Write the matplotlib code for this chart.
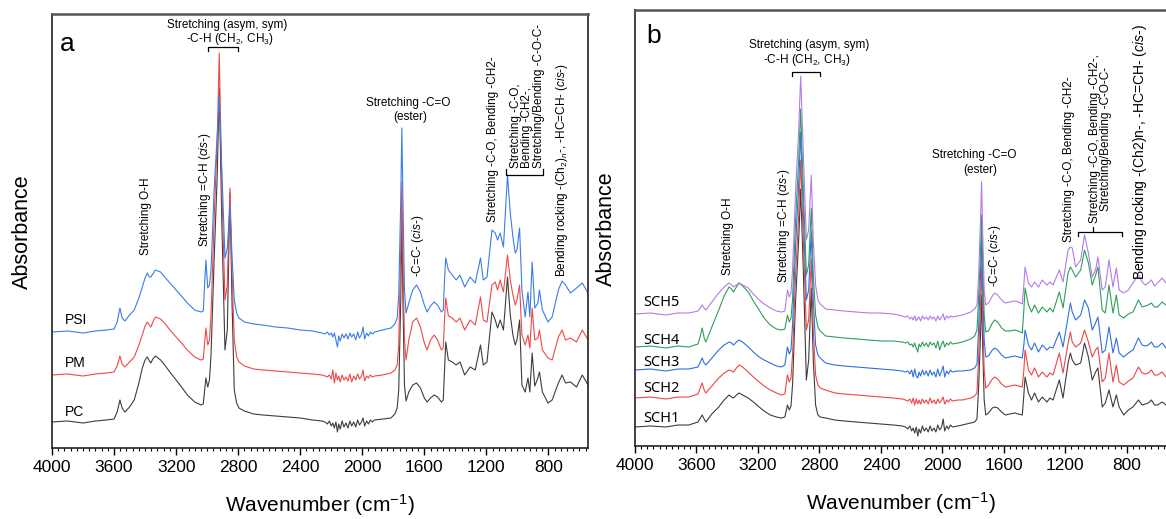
import matplotlib
matplotlib.use('Agg')
import matplotlib.pyplot as plt
from matplotlib.ticker import MultipleLocator

plt.rcParams['font.family'] = ['Liberation Sans', 'DejaVu Sans']
plt.rcParams['mathtext.fontset'] = 'custom'
plt.rcParams['mathtext.rm'] = 'Liberation Sans'
plt.rcParams['mathtext.it'] = 'Liberation Sans:italic'
plt.rcParams['mathtext.bf'] = 'Liberation Sans:bold'

# ---- panel a: wavenumbers (cm-1) and stacked traces
# (trace values are read as depth from the top of the frame, so the y axis is inverted)
wn_a = [4000, 3900, 3800, 3720, 3650, 3600, 3580, 3562, 3548, 3530, 3500, 3470, 3440, 3418, 3400,
        3386, 3372, 3363, 3350, 3334, 3300, 3274, 3240, 3200, 3160, 3128, 3080, 3040, 3025,
        3008, 2996, 2985, 2975, 2955, 2935, 2922, 2905, 2885, 2870, 2853, 2840, 2825, 2810, 2795,
        2760, 2700, 2640, 2560, 2480, 2400, 2320, 2260,
        2240, 2225, 2212, 2200, 2190, 2180, 2170, 2160, 2152, 2142, 2130, 2118, 2105, 2092, 2080,
        2068, 2055, 2042, 2030, 2018, 2005, 1995, 1985, 1972, 1960, 1948, 1935, 1920,
        1870, 1815, 1790, 1775, 1765, 1752, 1745, 1738, 1728, 1718, 1700, 1675, 1650, 1625, 1600,
        1582, 1560, 1537, 1515, 1490, 1478,
        1470, 1462, 1445, 1420, 1395, 1370, 1340, 1305, 1272, 1238, 1220, 1196, 1164, 1143, 1128,
        1111, 1090, 1064, 1046, 1029, 1014, 1003, 986, 971, 950, 932, 920, 905, 888, 868, 858, 839, 803,
        776, 736, 712, 690, 658, 619, 582, 545]
psi = [332, 331, 333, 331, 330, 329, 322, 308, 318, 321, 315, 310, 298, 287, 278,
       273, 277, 277, 274, 270, 272, 277, 283, 290, 297, 303, 310, 312, 311,
       260, 288, 285, 270, 190, 135, 97, 170, 258, 248, 205, 255, 300, 313, 318,
       322, 324, 325, 327, 328, 330, 331, 333,
       334, 332, 335, 333, 337, 333, 340, 347, 336, 341, 334, 338, 334, 339, 333,
       337, 334, 340, 332, 338, 334, 327, 339, 333, 336, 332, 334, 332,
       330, 328, 324, 318, 295, 200, 128, 200, 290, 313, 303, 290, 285, 292, 305,
       312, 306, 302, 305, 312, 310,
       280, 258, 270, 275, 280, 275, 287, 277, 283, 258, 280, 277, 230, 233, 240,
       233, 247, 175, 213, 237, 253, 250, 228, 290, 317, 292, 317, 262, 308, 303, 290, 310, 322,
       317, 290, 281, 285, 293, 288, 283, 293]
pm = [375, 374, 376, 374, 373, 372, 366, 356, 364, 367, 362, 357, 345, 335, 326,
      322, 325, 327, 322, 317, 319, 323, 330, 337, 344, 350, 357, 360, 359,
      328, 345, 340, 315, 220, 140, 53, 190, 300, 285, 188, 270, 340, 357, 362,
      366, 369, 370, 371, 372, 373, 374, 375,
      376, 377, 375, 379, 370, 383, 373, 380, 376, 382, 375, 380, 377, 381, 374,
      382, 376, 380, 374, 379, 376, 370, 381, 376, 378, 375, 377, 376,
      375, 373, 370, 365, 345, 250, 182, 260, 340, 360, 340, 322, 318, 327, 343,
      350, 340, 335, 340, 350, 348,
      320, 298, 316, 318, 322, 318, 330, 320, 325, 297, 320, 322, 285, 282, 290,
      280, 292, 255, 280, 295, 305, 300, 285, 335, 345, 335, 348, 308, 340, 338, 330, 350, 358,
      360, 337, 330, 340, 338, 342, 330, 340]
pc = [422, 421, 423, 421, 420, 419, 412, 400, 408, 412, 407, 400, 383, 368, 360,
      357, 361, 363, 359, 356, 360, 365, 372, 380, 388, 395, 402, 405, 404,
      378, 387, 380, 355, 260, 175, 88, 225, 350, 330, 193, 300, 390, 403, 408,
      411, 414, 415, 416, 417, 418, 420, 421,
      422, 424, 421, 426, 423, 428, 422, 432, 424, 429, 421, 427, 423, 428, 421,
      426, 422, 427, 420, 425, 422, 418, 426, 421, 424, 420, 422, 420,
      419, 418, 414, 408, 390, 300, 213, 300, 385, 401, 392, 385, 383, 388, 398,
      402, 398, 395, 397, 402, 400,
      370, 342, 360, 362, 365, 362, 375, 367, 370, 345, 365, 362, 312, 320, 328,
      320, 330, 277, 315, 335, 345, 340, 320, 385, 392, 378, 392, 353, 386, 378, 372, 392, 403,
      400, 383, 375, 383, 382, 387, 375, 385]

# ---- panel b
wn_b = [4000, 3900, 3800, 3720, 3650, 3590, 3575, 3563, 3550, 3539, 3500, 3455, 3420, 3388, 3372,
        3359, 3340, 3323, 3300, 3263, 3230, 3192, 3160, 3120, 3080, 3048, 3025,
        3008, 2996, 2985, 2975, 2955, 2935, 2922, 2905, 2885, 2870, 2853, 2840, 2825, 2810, 2795,
        2760, 2700, 2640, 2560, 2480, 2400, 2320, 2260,
        2240, 2225, 2212, 2200, 2190, 2180, 2170, 2160, 2152, 2142, 2130, 2118, 2105, 2092, 2080,
        2068, 2055, 2042, 2030, 2018, 2005, 1995, 1985, 1972, 1960, 1948, 1935, 1900, 1870,
        1815, 1790, 1775, 1765, 1752, 1745, 1738, 1728, 1718, 1700, 1675, 1659, 1640, 1615, 1590,
        1560, 1530, 1505, 1480,
        1470, 1462, 1440, 1420, 1400, 1375, 1350, 1320, 1300, 1280, 1239, 1215, 1182, 1167, 1155,
        1133, 1100, 1075, 1050, 1025, 1003, 988, 960, 940, 916, 890, 868, 850, 820, 790,
        760, 724, 700, 680, 660, 640, 620, 600, 570, 545]
sch5 = [314, 313, 315, 313, 313, 311, 308, 305, 308, 310, 302, 293, 287, 283, 285,
        287, 285, 283, 285, 288, 294, 300, 304, 308, 311, 312, 311,
        290, 297, 293, 270, 190, 130, 76, 150, 240, 230, 175, 240, 285, 300, 304,
        309, 310, 311, 312, 313, 313, 314, 316,
        317, 316, 319, 317, 320, 316, 321, 318, 317, 321, 316, 319, 317, 320, 316,
        319, 317, 321, 316, 320, 317, 314, 320, 316, 318, 316, 317, 316, 315,
        312, 309, 305, 280, 220, 182, 230, 290, 305, 303, 296, 293, 295, 300, 303,
        302, 301, 302, 304,
        285, 267, 283, 287, 282, 287, 280, 285, 282, 285, 270, 282, 250, 247, 248,
        267, 260, 235, 253, 277, 270, 257, 290, 287, 260, 287, 268, 290, 293, 290,
        283, 275, 282, 285, 283, 280, 286, 283, 278, 283]
sch4 = [347, 346, 348, 346, 347, 344, 336, 328, 338, 342, 327, 310, 296, 287, 289,
        292, 287, 283, 286, 292, 301, 310, 318, 325, 329, 330, 329,
        315, 322, 318, 300, 220, 160, 109, 190, 275, 265, 208, 275, 315, 327, 331,
        336, 337, 338, 339, 340, 341, 341, 342,
        343, 342, 345, 344, 347, 343, 348, 352, 344, 347, 342, 346, 343, 347, 342,
        345, 343, 348, 341, 350, 344, 341, 347, 343, 345, 342, 344, 343, 342,
        339, 336, 330, 300, 250, 215, 260, 315, 332, 331, 323, 320, 322, 328, 331,
        331, 330, 331, 333,
        310, 288, 305, 312, 305, 313, 307, 312, 308, 312, 292, 308, 273, 267, 270,
        277, 270, 250, 263, 285, 275, 267, 310, 313, 285, 313, 295, 315, 318, 314,
        312, 300, 307, 306, 305, 303, 307, 307, 302, 305]
sch3 = [370, 369, 371, 369, 369, 367, 362, 358, 363, 365, 358, 350, 345, 342, 343,
        345, 342, 340, 342, 347, 352, 357, 360, 363, 366, 367, 365,
        347, 354, 350, 325, 245, 185, 132, 210, 300, 290, 231, 300, 345, 355, 358,
        363, 365, 366, 367, 368, 369, 370, 371,
        372, 371, 374, 370, 377, 369, 376, 378, 372, 376, 370, 375, 371, 376, 370,
        375, 372, 377, 369, 376, 371, 366, 377, 371, 374, 370, 372, 371, 371,
        370, 368, 364, 330, 275, 238, 285, 340, 357, 356, 350, 348, 350, 355, 358,
        357, 356, 357, 358,
        345, 330, 345, 350, 343, 352, 345, 350, 347, 348, 332, 347, 317, 303, 312,
        320, 315, 300, 308, 330, 323, 317, 353, 350, 327, 353, 338, 353, 357, 353,
        350, 338, 345, 346, 345, 342, 347, 347, 343, 348]
sch2 = [398, 397, 399, 397, 397, 394, 388, 383, 390, 393, 386, 378, 373, 370, 371,
        372, 368, 365, 367, 372, 377, 382, 386, 390, 393, 395, 394,
        375, 382, 378, 355, 275, 215, 160, 240, 330, 320, 259, 330, 375, 385, 388,
        390, 393, 394, 395, 396, 397, 398, 399,
        400, 401, 399, 403, 398, 405, 399, 404, 400, 404, 399, 403, 400, 404, 398,
        403, 400, 404, 399, 403, 400, 397, 404, 400, 402, 399, 401, 400, 400,
        398, 396, 393, 360, 305, 266, 315, 370, 388, 385, 379, 377, 379, 384, 387,
        386, 385, 386, 387,
        370, 350, 370, 375, 368, 377, 372, 377, 373, 375, 353, 373, 343, 332, 342,
        347, 343, 330, 342, 357, 350, 347, 382, 378, 353, 382, 365, 382, 385, 381,
        378, 367, 373, 374, 373, 370, 375, 375, 372, 377]
sch1 = [427, 426, 427, 425, 425, 422, 418, 415, 419, 422, 414, 407, 400, 395, 397,
        398, 395, 393, 395, 398, 402, 407, 411, 415, 417, 418, 417,
        405, 410, 406, 385, 300, 240, 189, 270, 380, 360, 288, 360, 405, 415, 417,
        418, 420, 421, 422, 423, 424, 425, 426,
        427, 429, 426, 431, 428, 433, 427, 436, 429, 433, 426, 431, 428, 432, 426,
        431, 428, 432, 425, 430, 427, 419, 431, 426, 429, 425, 427, 426, 425,
        423, 422, 419, 390, 335, 295, 345, 400, 415, 413, 408, 407, 408, 412, 415,
        414, 413, 414, 415,
        395, 377, 393, 400, 393, 402, 397, 402, 398, 400, 380, 398, 363, 353, 360,
        365, 363, 343, 357, 380, 372, 368, 407, 403, 390, 407, 395, 407, 415, 410,
        407, 400, 405, 404, 403, 400, 405, 405, 402, 405]

labels_a = ['PSI', 'PM', 'PC']
labels_b = ['SCH5', 'SCH4', 'SCH3', 'SCH2', 'SCH1']
xticks = [4000, 3600, 3200, 2800, 2400, 2000, 1600, 1200, 800]

fig = plt.figure(figsize=(11.66, 5.19), dpi=100)
ax1 = fig.add_axes([52 / 1166, 71 / 519, 536 / 1166, 434 / 519])
ax2 = fig.add_axes([635 / 1166, 73 / 519, 531 / 1166, 436 / 519])

ax1.plot(wn_a, pc, color='#3d3d3d', lw=0.8)
ax1.plot(wn_a, pm, color='#f04848', lw=0.8)
ax1.plot(wn_a, psi, color='#3a7de6', lw=0.8)
ax1.set_ylim(448, 14)

ax2.plot(wn_b, sch1, color='#3d3d3d', lw=0.8)
ax2.plot(wn_b, sch2, color='#f04545', lw=0.8)
ax2.plot(wn_b, sch3, color='#2f6fe0', lw=0.8)
ax2.plot(wn_b, sch4, color='#2e9e5b', lw=0.8)
ax2.plot(wn_b, sch5, color='#b57be6', lw=0.8)
ax2.set_ylim(446, 10)

for ax in [ax1, ax2]:
    ax.set_xlim(4000, 545)
    ax.set_xticks(xticks)
    ax.xaxis.set_minor_locator(MultipleLocator(40))
    ax.tick_params(axis='x', which='major', direction='out', length=5, width=1, labelsize=12.5, pad=4)
    ax.tick_params(axis='x', which='minor', direction='out', length=2.5, width=0.8)
    ax.set_yticks([])
    ax.set_xlabel('Wavenumber (cm$^{-1}$)', fontsize=15, labelpad=12)
    for side in ax.spines.keys():
        ax.spines[side].set_color('#222222')
        ax.spines[side].set_linewidth(1.2)
    ax.spines['top'].set_color('#555555')
    ax.spines['top'].set_linewidth(1.8)
ax2.spines['right'].set_visible(False)

fig.text(22 / 1166, 1 - 232 / 519, 'Absorbance', rotation=90, ha='center', va='center', fontsize=15.5)
fig.text(606 / 1166, 1 - 229 / 519, 'Absorbance', rotation=90, ha='center', va='center', fontsize=15.5)

# panel letters and sample names
ax1.text(3903, 44, 'a', fontsize=19, ha='center', va='center')
ax2.text(3877, 36, 'b', fontsize=19, ha='center', va='center')
for lab, y in zip(labels_a, [320, 363, 412]):
    ax1.text(3916, y, lab, fontsize=10, ha='left', va='center')
for lab, y in zip(labels_b, [303, 341, 363, 389, 418]):
    ax2.text(3948, y, lab, fontsize=10.5, ha='left', va='center', family=['Noto Sans', 'DejaVu Sans'])

cis = '($\\mathit{cis}$-)'
fs = 8.5


def vnote(ax, x, y, s, size=fs, **kw):
    ax.text(x, y, s, rotation=90, ha='center', va='bottom', fontsize=size, **kw)


def bracket(ax, x0, x1, y, tick):
    ax.plot([x0, x0, x1, x1], [y + tick, y, y, y + tick], color='k', lw=0.9, clip_on=False)


# annotations panel a
ax1.text(2869, 25, 'Stretching (asym, sym)', ha='center', va='center', fontsize=fs)
ax1.text(2856, 39, '-C-H (CH$_2$, CH$_3$)', ha='center', va='center', fontsize=fs)
bracket(ax1, 2992, 2798, 47, 4)
vnote(ax1, 3392, 255, 'Stretching O-H')
vnote(ax1, 3017, 247, 'Stretching =C-H ' + cis)
ax1.text(1705, 103, 'Stretching -C=O', ha='center', va='center', fontsize=fs)
ax1.text(1692, 117, '(ester)', ha='center', va='center', fontsize=fs)
vnote(ax1, 1643, 277, '-C=C- ' + cis)
vnote(ax1, 1156, 222, 'Stretching -C-O, Bending -CH2-')
vnote(ax1, 936, 168, 'Stretching -C-O,\nBending -CH2-,\nStretching/Bending -C-O-C-',
      multialignment='left', linespacing=0.95)
bracket(ax1, 1072, 833, 175, -6)
vnote(ax1, 712, 277, 'Bending rocking -(Ch$_2$)$_n$-, -HC=CH- ' + cis)

# annotations panel b
ax2.text(2866, 45, 'Stretching (asym, sym)', ha='center', va='center', fontsize=fs)
ax2.text(2879, 60, '-C-H (CH$_2$, CH$_3$)', ha='center', va='center', fontsize=fs)
bracket(ax2, 2977, 2795, 72, 4)
vnote(ax2, 3394, 275, 'Stretching O-H')
vnote(ax2, 3029, 283, 'Stretching =C-H ' + cis)
ax2.text(1792, 155, 'Stretching -C=O', ha='center', va='center', fontsize=fs)
ax2.text(1752, 170, '(ester)', ha='center', va='center', fontsize=fs)
vnote(ax2, 1655, 287, '-C=C- ' + cis)
vnote(ax2, 1173, 242, 'Stretching -C-O, Bending -CH2-')
vnote(ax2, 971, 223, 'Stretching -C-O, Bending -CH2-,\nStretching/Bending -C-O-C-',
      multialignment='center', linespacing=0.95)
bracket(ax2, 1120, 834, 232, 4)
ax2.plot([1023, 1023], [232, 227], color='k', lw=0.9)
vnote(ax2, 717, 280, 'Bending rocking -(Ch2)n-, -HC=CH- ' + cis, size=10)

fig.savefig('out.png', dpi=100)
